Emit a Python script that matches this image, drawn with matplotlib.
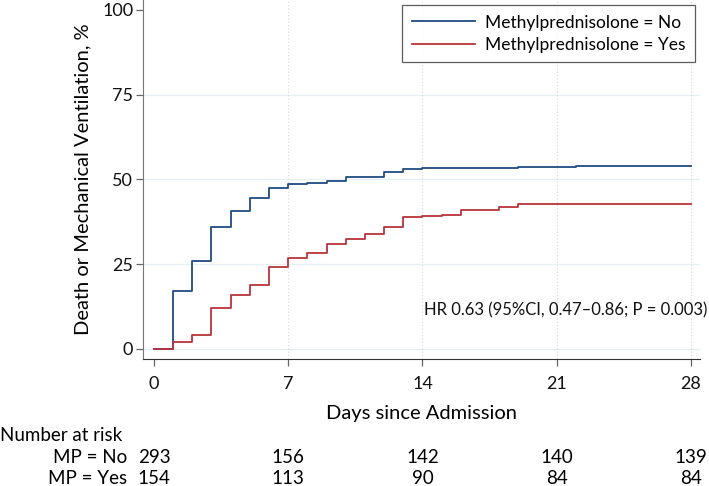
import matplotlib.pyplot as plt
import matplotlib.transforms as mtransforms
from matplotlib.lines import Line2D

plt.rcParams['font.family'] = ['Lato', 'DejaVu Sans']

# cumulative incidence, step changes (day, %)
days_no = [0, 1, 2, 3, 4, 5, 6, 7, 8, 9, 10, 12, 13, 14, 19, 22, 28]
pct_no = [0, 17, 26, 36, 40.6, 44.6, 47.5, 48.5, 49, 49.5, 50.8, 52.3, 52.9, 53.3, 53.6, 53.9, 53.9]

days_yes = [0, 1, 2, 3, 4, 5, 6, 7, 8, 9, 10, 11, 12, 13, 14, 15, 16, 18, 19, 28]
pct_yes = [0, 2.1, 4.2, 12, 15.9, 18.8, 24, 26.7, 28.4, 31, 32.4, 34, 35.8, 39, 39.3, 39.6, 40.9, 41.9, 42.8, 42.8]

risk_days = [0, 7, 14, 21, 28]
risk_no = [293, 156, 142, 140, 139]
risk_yes = [154, 113, 90, 84, 84]

blue = '#1f4b80'
red = '#b8343c'

W, H = 709, 486
fig = plt.figure(figsize=(W / 100, H / 100), dpi=100)
ax = fig.add_axes([143 / W, 1 - 359 / H, 557 / W, 359 / H])

# grid
for y in [0, 25, 50, 75]:
    ax.axhline(y, color='#e6eff1', lw=0.9, zorder=0)
for x in [7, 14, 21, 28]:
    ax.axvline(x, color='#d8d8d8', lw=0.8, ls=(0, (1, 2)), zorder=0)

ax.step(days_no, pct_no, where='post', color=blue, lw=1.3)
ax.step(days_yes, pct_yes, where='post', color=red, lw=1.3)

ax.set_xlim(-0.57, 28.47)
ax.set_ylim(-3.0, 102.9)
ax.set_xticks(risk_days)
ax.set_yticks([0, 25, 50, 75, 100])
ax.tick_params(axis='both', direction='out', length=5, width=0.9, labelsize=13,
               color='#666666', labelcolor='#111111')
ax.tick_params(axis='y', pad=2)
ax.tick_params(axis='x', pad=7)

for s in ['top', 'right']:
    ax.spines[s].set_visible(False)
ax.spines['left'].set_color('#777777')
ax.spines['bottom'].set_color('#333333')

fig.text(83 / W, 1 - 179 / H, 'Death or Mechanical Ventilation, %', fontsize=14.5,
         rotation=90, ha='center', va='center')
fig.text(421 / W, 1 - 413 / H, 'Days since Admission', fontsize=14.5, ha='center', va='center')

handles = [Line2D([], [], color=blue, lw=1.3), Line2D([], [], color=red, lw=1.3)]
leg = fig.legend(handles, ['Methylprednisolone = No', 'Methylprednisolone = Yes'],
                 loc='upper right', bbox_to_anchor=(695 / W, 1 - 5 / H),
                 bbox_transform=fig.transFigure, borderaxespad=0,
                 fontsize=12.5, frameon=True, fancybox=False, edgecolor='#333333',
                 handlelength=3.6, handletextpad=0.6, borderpad=0.55, labelspacing=0.35)
leg.get_frame().set_linewidth(0.9)

fig.text(707 / W, 1 - 310 / H, 'HR 0.63 (95%CI, 0.47\u20130.86; P = 0.003)', fontsize=12,
         ha='right', va='center', color='#111111')

# number at risk table
trans = mtransforms.blended_transform_factory(ax.transData, fig.transFigure)
fig.text(0, 1 - 435 / H, 'Number at risk', fontsize=13.5, va='center', ha='left')
fig.text(127 / W, 1 - 457 / H, 'MP = No', fontsize=13.5, va='center', ha='right')
fig.text(127 / W, 1 - 478 / H, 'MP = Yes', fontsize=13.5, va='center', ha='right')
for d, n1, n2 in zip(risk_days, risk_no, risk_yes):
    ax.text(d, 1 - 457 / H, str(n1), transform=trans, fontsize=13.5, ha='center', va='center')
    ax.text(d, 1 - 478 / H, str(n2), transform=trans, fontsize=13.5, ha='center', va='center')

fig.savefig('out.png', dpi=100)
